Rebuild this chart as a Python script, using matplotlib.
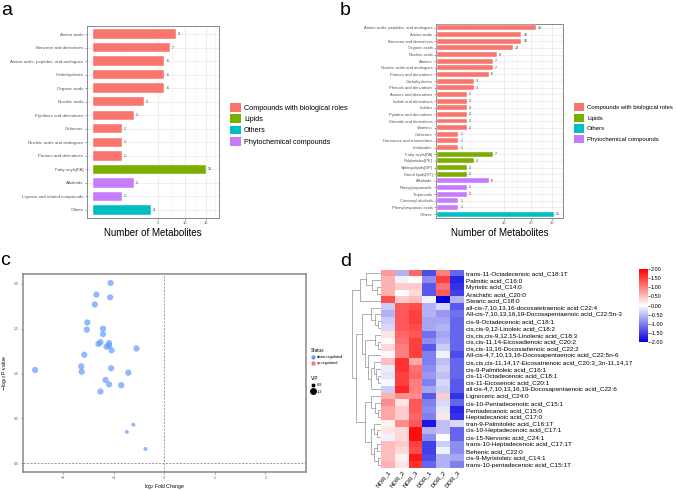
import numpy as np
import matplotlib.pyplot as plt
from matplotlib.patches import Patch
from matplotlib.lines import Line2D
from matplotlib.colors import LinearSegmentedColormap

plt.rcParams['font.family'] = ['Liberation Sans', 'DejaVu Sans']

# ---- data ----
class_names = ['Compounds with biological roles', 'Lipids', 'Others', 'Phytochemical compounds']
class_colors = ['#F8766D', '#7CAE00', '#00BFC4', '#C77CFF']

a_cats = ['Amino acids', 'Benzene and derivatives', 'Amino acids, peptides, and analogues',
          'Carbohydrates', 'Organic acids', 'Nucleic acids', 'Pyridines and derivatives',
          'Cofactors', 'Nucleic acids and analogues', 'Purines and derivatives',
          'Fatty acyls[FA]', 'Alkaloids', 'Lignans and related compounds', 'Others']
a_vals = [8, 7, 6, 6, 6, 3, 2, 1, 1, 1, 15, 2, 1, 4]
a_class = [0] * 10 + [1, 3, 3, 2]

b_cats = ['Amino acids, peptides, and analogues', 'Amino acids', 'Benzene and derivatives',
          'Organic acids', 'Nucleic acids', 'Amines', 'Nucleic acids and analogues',
          'Purines and derivatives', 'Carbohydrates', 'Phenols and derivatives',
          'Amines and derivatives', 'Indole and derivatives', 'Indoles',
          'Pyridine and derivatives', 'Steroids and derivatives', 'Vitamins', 'Cofactors',
          'Hormones and transmitters', 'Imidazoles', 'Fatty acyls[FA]', 'Polyketides[PK]',
          'Sphingolipids[SP]', 'Sterol lipids[ST]', 'Alkaloids', 'Phenylpropanoids',
          'Terpenoids', 'Cinnamyl alcohols', 'Phenylpropanoic acids', 'Others']
b_vals = [22, 16, 16, 13, 8, 7, 7, 6, 3, 3, 2, 2, 2, 2, 2, 2, 1, 1, 1,
          7, 3, 2, 2, 6, 2, 2, 1, 1, 31]
b_class = [0] * 19 + [1] * 4 + [3] * 5 + [2]

# volcano
fold_change = [-1.06, -1.34, -1.07, -1.37, -1.52, -1.53, -1.21, -1.21, -1.26, -1.30,
               -1.09, -1.14, -1.09, -1.04, -0.55, -1.58, -2.55, -1.64, -1.63, -1.05,
               -0.71, -1.16, -1.09, -0.85, -1.26, -0.61, -0.74, -0.37]
neg_log_p = [2.01, 1.88, 1.85, 1.77, 1.57, 1.49, 1.50, 1.44, 1.35, 1.33,
             1.34, 1.30, 1.31, 1.26, 1.28, 1.21, 1.04, 1.08, 1.02, 1.06,
             1.01, 0.93, 0.88, 0.87, 0.80, 0.43, 0.35, 0.16]
vip = [1.30] * 25 + [1.0, 1.0, 1.0]

# heatmap
hm_cols = ['NOR_1', 'NOR_2', 'NOR_3', 'DOR_1', 'DOR_2', 'DOR_3']
hm_rows = ['trans-11-Octadecenoic acid_C18:1T', 'Palmitic acid_C16:0', 'Myristic acid_C14:0',
           'Arachidic acid_C20:0', 'Stearic acid_C18:0',
           'all-cis-7,10,13,16-docosatetraenoic acid C22:4',
           'All-cis-7,10,13,16,19-Docosapentaenoic acid_C22:5n-3',
           'cis-9-Octadecenoic acid_C18:1', 'cis,cis-9,12-Linoleic acid_C18:2',
           'cis,cis,cis-9,12,15-Linolenic acid_C18:3', 'cis,cis-11,14-Eicosadienoic acid_C20:2',
           'cis,cis-13,16-Docosadienoic acid_C22:2',
           'All-cis-4,7,10,13,16-Docosapentaenoic acid_C22:5n-6',
           'cis,cis,cis-11,14,17-Eicosatrienoic acid_C20:3_3n-11,14,17',
           'cis-9-Palmitoleic acid_C16:1', 'cis-11-Octadecenoic acid_C18:1',
           'cis-11-Eicosenoic acid_C20:1',
           'all cis-4,7,10,13,16,19-Docosapentaenoic acid_C22:6', 'Lignoceric acid_C24:0',
           'cis-10-Pentadecenotic acid_C15:1', 'Pentadecanoic acid_C15:0',
           'Heptadecanoic acid_C17:0', 'tran-9-Palmitoleic acid_C16:1T',
           'cis-10-Heptadecenoic acid_C17:1', 'cis-15-Nervonic acid_C24:1',
           'trans-10-Heptadecenoic acid_C17:1T', 'Behenic acid_C22:0',
           'cis-9-Myristoleic acid_C14:1', 'trans-10-pentadecenoic acid_C15:1T']
hm_vals = [
    [0.8, -0.6, 1.2, -1.4, 1.0, -1.2],
    [0.6, -0.1, 0.0, -0.9, 1.5, -1.7],
    [0.6, 0.4, 0.4, -1.3, 1.1, -1.6],
    [0.6, 0.0, 0.3, -1.3, 1.3, -1.5],
    [1.4, 0.4, 0.5, -0.1, -2.0, -0.6],
    [-0.4, 1.3, 1.4, -0.6, -0.3, -1.3],
    [-0.6, 1.3, 1.5, -0.6, -0.8, -1.1],
    [-0.4, 1.3, 1.5, -0.7, -0.7, -1.2],
    [-0.3, 1.3, 1.4, -0.7, -0.6, -1.2],
    [0.2, 1.2, 1.3, -1.1, -0.7, -1.2],
    [0.05, 1.1, 1.5, -0.9, -0.6, -1.2],
    [0.3, 1.0, 1.5, -1.3, -0.4, -1.2],
    [0.05, 1.0, 1.5, -1.0, -0.1, -1.4],
    [0.5, 1.6, 0.7, -1.0, -0.5, -1.2],
    [-0.15, 1.6, 1.1, -0.9, -0.4, -1.2],
    [-0.2, 1.5, 1.2, -0.8, -0.5, -1.2],
    [-0.05, 1.5, 1.0, -1.0, -0.3, -1.3],
    [-0.4, 1.7, 1.0, -0.7, -0.4, -1.3],
    [0.6, 0.9, 0.9, -1.3, 0.4, -1.6],
    [0.9, 0.2, 1.3, -1.0, -0.3, -1.2],
    [0.7, 0.4, 1.3, -0.9, -0.2, -1.7],
    [0.7, 0.4, 1.2, -1.0, 0.2, -1.6],
    [0.1, 0.9, 1.3, -1.8, -0.5, -0.3],
    [0.2, 0.3, 1.9, -0.6, -0.5, -1.2],
    [-0.1, 0.3, 1.9, -0.9, 0.0, -1.2],
    [0.5, 0.4, 1.5, -1.5, -0.4, -0.9],
    [0.5, 0.3, 1.4, -1.5, -0.1, -0.9],
    [0.5, 0.1, 1.8, -1.4, -0.6, -0.7],
    [0.6, 0.2, 1.6, -1.2, -0.6, -1.0],
]
# row dendrogram: (left, right, height), leaves are row indices
grp_a = ((0, (1, (2, 3, 1.5), 3.0), 5.0), 4, 7.0)
grp_b = (((5, (6, (7, 8, 1.0), 2.0), 3.5),
          ((9, (10, 11, 1.0), 2.0),
           (12, ((13, (14, (15, 16, 1.0), 1.8), 2.5), 17, 3.5), 4.5), 5.5), 6.5))
grp_c = (((18, (19, (20, 21, 1.0), 2.0), 3.5),
          ((22, (23, 24, 1.5), 2.5), ((25, 26, 1.5), (27, 28, 1.0), 2.5), 3.5), 5.5))
row_tree = (grp_a, (grp_b, grp_c, 8.5), 10.0)

W, H = 676, 490


def box(l, t, r, b):
    return [l / W, 1 - b / H, (r - l) / W, (b - t) / H]


def fwd(x):
    return np.sign(x) * np.sqrt(np.abs(x))


def inv(x):
    return np.sign(x) * x ** 2


fig = plt.figure(figsize=(W / 100, H / 100), dpi=100)


def bar_panel(rect, cats, vals, classes, xlim, ticks, lab_fs, bar_h):
    ax = fig.add_axes(rect)
    ax.set_xscale('function', functions=(fwd, inv))
    y = np.arange(len(cats))
    ax.barh(y, vals, height=bar_h, color=[class_colors[c] for c in classes],
            edgecolor='white', linewidth=0.3, zorder=3)
    for yi, v in zip(y, vals):
        ax.annotate(str(v), (v, yi), xytext=(1.5, 0), textcoords='offset points',
                    fontsize=2.6, va='center', ha='left', color='#333333')
    ax.set_xlim(*xlim)
    ax.set_ylim(len(cats) - 1 + 0.6, -0.6)
    ax.set_yticks(y)
    ax.set_yticklabels(cats, fontsize=lab_fs, color='#333333')
    ax.set_xticks(ticks)
    ax.set_xticklabels([str(t) for t in ticks], fontsize=3, color='#333333')
    edges = [0] + list(ticks) + [ticks[-1] * 2 - ticks[-2]]
    minors = [((np.sqrt(p) + np.sqrt(q)) / 2) ** 2 for p, q in zip(edges[:-1], edges[1:])]
    ax.set_xticks(minors, minor=True)
    ax.tick_params(which='minor', length=0)
    ax.tick_params(length=1.5, width=0.4, pad=1, colors='#555555')
    ax.grid(True, which='major', color='#E8E8E8', lw=0.5, zorder=0)
    ax.grid(True, which='minor', axis='x', color='#F2F2F2', lw=0.4, zorder=0)
    for s in ax.spines.values():
        s.set_color('#888888')
        s.set_linewidth(0.7)
    ax.set_xlabel('Number of Metabolites', fontsize=7, labelpad=2)
    return ax


bar_panel(box(87, 26, 219, 218), a_cats, a_vals, a_class, (-0.04, 18.6), [5, 10, 15], 3.2, 0.7)
bar_panel(box(436, 24, 563, 218), b_cats, b_vals, b_class, (-0.003, 35.8), [10, 20, 30], 3.0, 0.75)

handles = [Patch(facecolor=c, edgecolor='none') for c in class_colors]
for lx, fs, hs in ((230, 5.2, 1.5), (574, 4.3, 1.75)):
    fig.legend(handles, class_names, loc='upper left', bbox_to_anchor=(lx / W, 1 - 103 / H),
               frameon=False, fontsize=fs, handlelength=hs, handleheight=hs,
               labelspacing=0.34 * 5.2 / fs, handletextpad=0.45, borderpad=0, borderaxespad=0)

# ---- panel c: volcano ----
axc = fig.add_axes(box(23, 274, 306, 472))
dia = [2.5 + (v - 0.8) * 7.5 for v in vip]
axc.scatter(fold_change, neg_log_p, s=[(d * 0.72) ** 2 for d in dia], color='#619CFF',
            alpha=0.7, edgecolors='none', zorder=3)
axc.axvline(0, ls=(0, (3, 2)), color='#777777', lw=0.5)
axc.axhline(0, ls=(0, (3, 2)), color='#777777', lw=0.5)
axc.set_xlim(-2.79, 2.80)
axc.set_ylim(-0.097, 2.11)
axc.set_xticks([-2, -1, 0, 1, 2])
axc.set_yticks([0.0, 0.5, 1.0, 1.5, 2.0])
axc.set_yticklabels(['0.0', '0.5', '1.0', '1.5', '2.0'])
axc.tick_params(labelsize=2.6, length=1.2, width=0.4, pad=1.5, colors='#555555')
for s in axc.spines.values():
    s.set_color('#888888')
    s.set_linewidth(1.1)
axc.set_xlabel(r'log$_2$ Fold Change', fontsize=3.6, labelpad=1.5)
axc.set_ylabel(r'$-$log$_{10}$ P-value', fontsize=3.6, labelpad=4)

st_handles = [Line2D([], [], ls='none', marker='o', ms=2, color='#619CFF'),
              Line2D([], [], ls='none', marker='o', ms=2, color='#F8766D')]
leg1 = axc.legend(st_handles, ['down-regulated', 'up-regulated'], title='Status',
                  loc='upper left', bbox_to_anchor=(311 / W, 1 - 348 / H),
                  bbox_transform=fig.transFigure, frameon=False, fontsize=2.8,
                  title_fontsize=3.4, handlelength=1.0, handletextpad=0.4,
                  labelspacing=0.5, borderpad=0, borderaxespad=0)
leg1._legend_box.align = 'left'
axc.add_artist(leg1)
vip_handles = [Line2D([], [], ls='none', marker='o', ms=2.5 * 0.72, color='black'),
               Line2D([], [], ls='none', marker='o', ms=5.5 * 0.72, color='black')]
leg2 = axc.legend(vip_handles, ['0.8', '1.2'], title='VIP',
                  loc='upper left', bbox_to_anchor=(311 / W, 1 - 376 / H),
                  bbox_transform=fig.transFigure, frameon=False, fontsize=2.8,
                  title_fontsize=3.4, handlelength=1.0, handletextpad=0.4,
                  labelspacing=0.6, borderpad=0, borderaxespad=0)
leg2._legend_box.align = 'left'

# ---- panel d: heatmap ----
cmap = LinearSegmentedColormap.from_list('bwr2', ['#0000E0', '#FFFFFF', '#FF0000'])
axd = fig.add_axes(box(381, 270, 464, 468))
im = axd.imshow(np.array(hm_vals), cmap=cmap, vmin=-2, vmax=2, aspect='auto',
                interpolation='nearest')
axd.yaxis.tick_right()
axd.set_yticks(range(len(hm_rows)))
axd.set_yticklabels(hm_rows, fontsize=4.6)
axd.set_xticks(range(len(hm_cols)))
axd.set_xticklabels(hm_cols, fontsize=4.4, rotation=50, ha='right', rotation_mode='anchor')
axd.tick_params(length=0, pad=1.5)
axd.tick_params(axis='x', pad=0.8)
for s in axd.spines.values():
    s.set_visible(False)

cax = fig.add_axes(box(639, 269, 648, 342))
cb = fig.colorbar(im, cax=cax, ticks=np.arange(-2, 2.01, 0.5), format='%.2f')
cb.outline.set_visible(False)
cax.tick_params(labelsize=4, length=1.2, width=0.4, pad=0.8)

axz = fig.add_axes(box(351, 270, 381, 468))


def draw(node):
    if isinstance(node, int):
        return node, 0.0
    left, right, h = node
    yl, hl = draw(left)
    yr, hr = draw(right)
    axz.plot([hl, h, h, hr], [yl, yl, yr, yr], color='#909090', lw=0.5,
             solid_joinstyle='miter')
    return (yl + yr) / 2, h


draw(row_tree)
axz.set_ylim(len(hm_rows) - 0.5, -0.5)
axz.set_xlim(10.2, 0)
axz.axis('off')

# panel letters
for x, y, t in [(1, 15, 'a'), (340, 15, 'b'), (0, 265, 'c'), (340, 266, 'd')]:
    fig.text(x / W, 1 - y / H, t, fontsize=14, va='baseline', ha='left')

fig.savefig('out.png', dpi=100)
